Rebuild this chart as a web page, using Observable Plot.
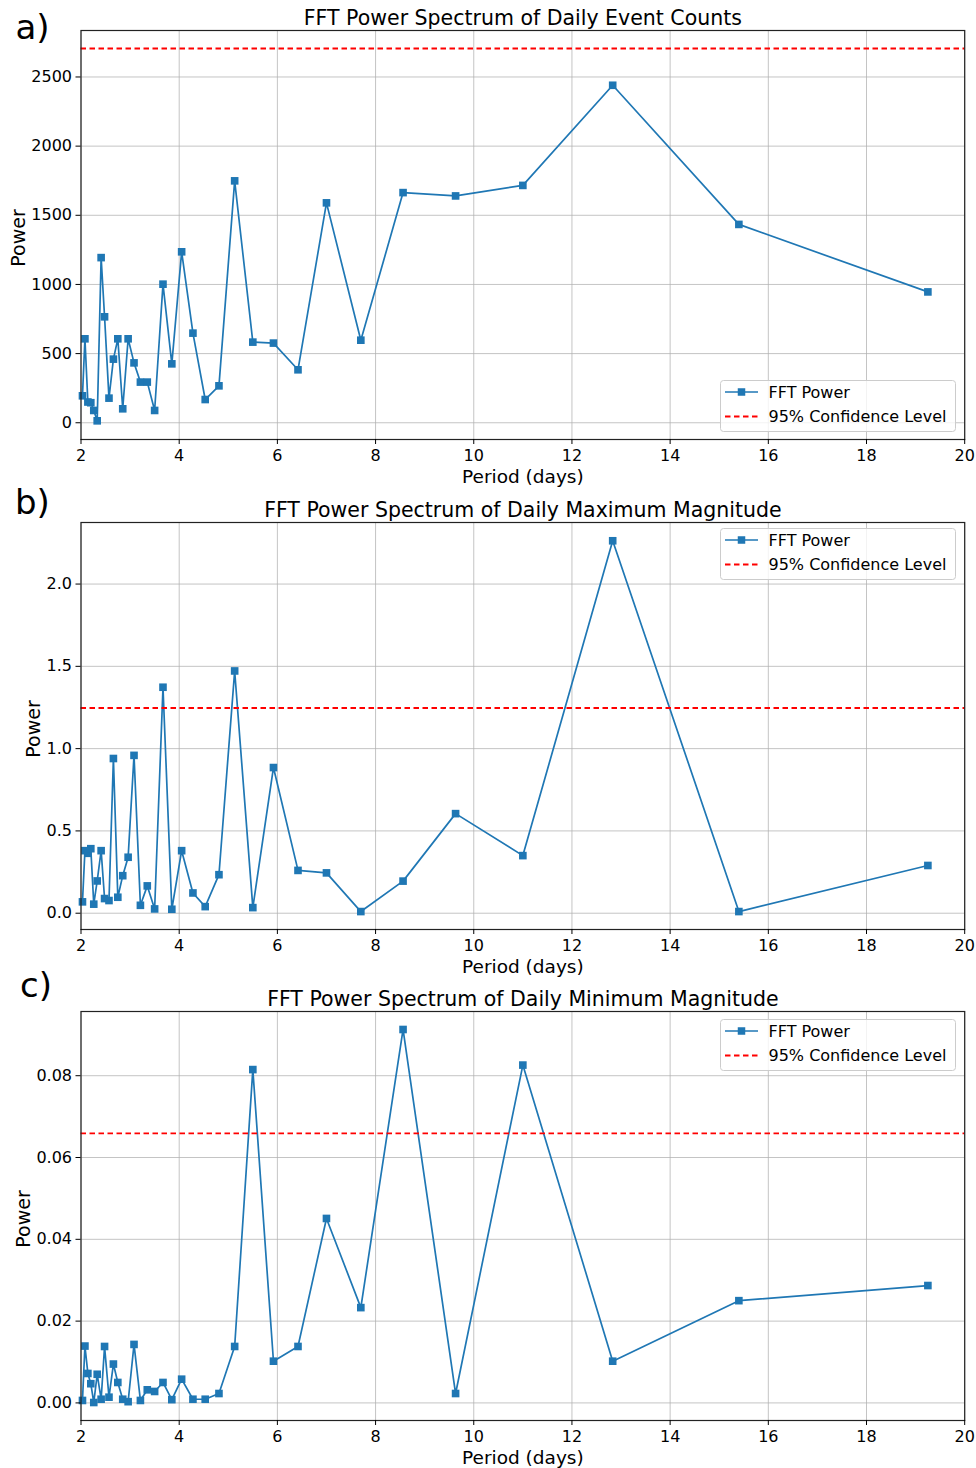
<!DOCTYPE html>
<html>
<head>
<meta charset="utf-8">
<script src="https://cdn.jsdelivr.net/npm/d3@7"></script>
<script src="https://cdn.jsdelivr.net/npm/@observablehq/plot@0.6"></script>
<style>
  html, body { margin: 0; padding: 0; background: #fff; }
  #figure { width: 976px; font-family: "DejaVu Sans", sans-serif; }
  .panel { position: relative; width: 976px; }
  .panel svg { display: block; }
</style>
</head>
<body>
<div id="figure"></div>
<script>
// Periods (days) of the FFT frequency bins shown on the x axis
const periodDays = [2.03, 2.08, 2.14, 2.2, 2.26, 2.33, 2.41, 2.48, 2.57, 2.66, 2.75, 2.85, 2.96, 3.08, 3.21, 3.35, 3.5, 3.67, 3.85, 4.05, 4.28, 4.53, 4.81, 5.13, 5.5, 5.92, 6.42, 7.0, 7.7, 8.56, 9.63, 11.0, 12.83, 15.4, 19.25];

// FFT power of daily event counts
const eventCountPower = [195, 607, 150, 145, 89, 14, 1194, 766, 178, 460, 607, 101, 607, 433, 294, 294, 89, 1002, 426, 1236, 648, 168, 267, 1749, 583, 576, 383, 1590, 597, 1664, 1640, 1716, 2440, 1434, 946];

// FFT power of daily maximum magnitude
const maxMagnitudePower = [0.069, 0.38, 0.364, 0.392, 0.055, 0.196, 0.38, 0.089, 0.077, 0.94, 0.097, 0.228, 0.34, 0.959, 0.048, 0.166, 0.026, 1.373, 0.024, 0.38, 0.123, 0.04, 0.234, 1.472, 0.034, 0.885, 0.26, 0.245, 0.01, 0.195, 0.605, 0.35, 2.263, 0.01, 0.29];

// FFT power of daily minimum magnitude
const minMagnitudePower = [0.0006, 0.0139, 0.0072, 0.0047, 0.0001, 0.007, 0.0009, 0.0138, 0.0014, 0.0095, 0.005, 0.0009, 0.0003, 0.0143, 0.0006, 0.0032, 0.0028, 0.005, 0.0008, 0.0058, 0.0009, 0.0009, 0.0023, 0.0138, 0.0815, 0.0102, 0.0138, 0.0451, 0.0233, 0.0913, 0.0023, 0.0826, 0.0102, 0.025, 0.0287];

// 95% confidence levels
const eventCountConfidence = 2706;
const maxMagnitudeConfidence = 1.247;
const minMagnitudeConfidence = 0.0659;

// Tick values
const periodTicks = [2, 4, 6, 8, 10, 12, 14, 16, 18, 20];
const eventCountTicks = [0, 500, 1000, 1500, 2000, 2500];
const maxMagnitudeTicks = [0.0, 0.5, 1.0, 1.5, 2.0];
const minMagnitudeTicks = [0.00, 0.02, 0.04, 0.06, 0.08];

const BLUE = "#1f77b4";
const FONT = "DejaVu Sans";

const panels = [
  {
    tag: "a)", title: "FFT Power Spectrum of Daily Event Counts",
    values: eventCountPower, conf: eventCountConfidence, ticks: eventCountTicks,
    format: d3.format("d"), domain: [-121, 2836],
    height: 490, marginTop: 30, marginBottom: 51,
    ylabelDx: -56, tagDx: -65.5, tagDy: 8.5, legendTop: 380
  },
  {
    tag: "b)", title: "FFT Power Spectrum of Daily Maximum Magnitude",
    values: maxMagnitudePower, conf: maxMagnitudeConfidence, ticks: maxMagnitudeTicks,
    format: d3.format(".1f"), domain: [-0.099, 2.374],
    height: 490, marginTop: 32, marginBottom: 51,
    ylabelDx: -41.5, tagDx: -66, tagDy: -8.5, legendTop: 38
  },
  {
    tag: "c)", title: "FFT Power Spectrum of Daily Minimum Magnitude",
    values: minMagnitudePower, conf: minMagnitudeConfidence, ticks: minMagnitudeTicks,
    format: d3.format(".2f"), domain: [-0.0043, 0.0957],
    height: 488, marginTop: 31, marginBottom: 48,
    ylabelDx: -51, tagDx: -61, tagDy: -15, legendTop: 39
  }
];

function legend(top) {
  const svg = d3.create("svg")
    .attr("width", 237).attr("height", 53)
    .style("position", "absolute").style("left", "720px").style("top", top + "px")
    .attr("font-family", FONT).attr("font-size", 16);
  svg.append("rect")
    .attr("x", 0.5).attr("y", 0.5).attr("width", 235).attr("height", 51).attr("rx", 3)
    .attr("fill", "white").attr("fill-opacity", 0.8).attr("stroke", "#cccccc");
  svg.append("line").attr("x1", 5).attr("x2", 38).attr("y1", 12).attr("y2", 12)
    .attr("stroke", BLUE).attr("stroke-width", 1.7);
  svg.append("rect").attr("x", 21.5 - 3.75).attr("y", 12 - 3.75).attr("width", 7.5).attr("height", 7.5)
    .attr("fill", BLUE);
  svg.append("text").attr("x", 48.5).attr("y", 17.8).text("FFT Power");
  svg.append("line").attr("x1", 5).attr("x2", 38).attr("y1", 36.5).attr("y2", 36.5)
    .attr("stroke", "red").attr("stroke-width", 1.8).attr("stroke-dasharray", "5.5,3.5");
  svg.append("text").attr("x", 48.5).attr("y", 42.3).text("95% Confidence Level");
  return svg.node();
}

const figure = document.getElementById("figure");

for (const p of panels) {
  const rows = periodDays.map((period, i) => ({period, power: p.values[i]}));
  const chart = Plot.plot({
    width: 976,
    height: p.height,
    marginLeft: 80.5,
    marginRight: 11.8,
    marginTop: p.marginTop,
    marginBottom: p.marginBottom,
    style: {fontFamily: FONT, fontSize: "16px", color: "#000", background: "#fff", overflow: "visible"},
    x: {domain: [2, 20], label: null},
    y: {domain: p.domain, label: null},
    marks: [
      Plot.gridX(periodTicks, {stroke: "#b0b0b0", strokeOpacity: 0.75, strokeWidth: 1}),
      Plot.gridY(p.ticks, {stroke: "#b0b0b0", strokeOpacity: 0.75, strokeWidth: 1}),
      Plot.line(rows, {x: "period", y: "power", stroke: BLUE, strokeWidth: 1.7}),
      Plot.dot(rows, {x: "period", y: "power", symbol: "square", r: 4.3, fill: BLUE, stroke: null}),
      Plot.ruleY([p.conf], {stroke: "red", strokeWidth: 1.8, strokeDasharray: "5.5,3.5"}),
      Plot.frame({stroke: "#222", strokeWidth: 1.2}),
      Plot.axisX(periodTicks, {tickSize: 5, tickPadding: 5, label: null, tickFormat: d3.format("d")}),
      Plot.axisY(p.ticks, {tickSize: 5, tickPadding: 4, label: null, tickFormat: p.format}),
      Plot.text([p.title], {frameAnchor: "top", lineAnchor: "bottom", dy: -6, fontSize: 20.5}),
      Plot.text(["Period (days)"], {frameAnchor: "bottom", lineAnchor: "bottom", dy: 43, fontSize: 18.5}),
      Plot.text(["Power"], {frameAnchor: "left", rotate: -90, lineAnchor: "bottom", textAnchor: "middle", dx: p.ylabelDx, dy: 3, fontSize: 19}),
      Plot.text([p.tag], {frameAnchor: "top-left", textAnchor: "start", lineAnchor: "bottom", dx: p.tagDx, dy: p.tagDy, fontSize: 34})
    ]
  });
  const wrap = document.createElement("div");
  wrap.className = "panel";
  wrap.style.height = p.height + "px";
  wrap.appendChild(chart);
  wrap.appendChild(legend(p.legendTop));
  figure.appendChild(wrap);
}
</script>
</body>
</html>
